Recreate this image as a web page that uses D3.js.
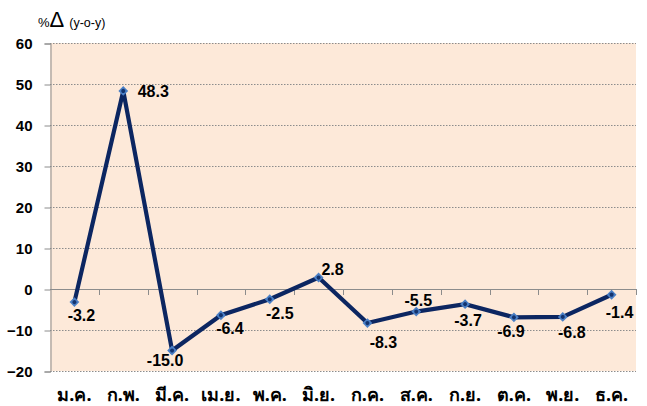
<!DOCTYPE html>
<html>
<head>
<meta charset="utf-8">
<script src="https://cdn.jsdelivr.net/npm/d3@7"></script>
<style>
  body { margin: 0; background: #fff; }
  svg { display: block; }
</style>
</head>
<body>
<svg id="chart" width="647" height="406"></svg>
<script>
// ===== data =====
var months = ["ม.ค.", "ก.พ.", "มี.ค.", "เม.ย.", "พ.ค.", "มิ.ย.", "ก.ค.", "ส.ค.", "ก.ย.", "ต.ค.", "พ.ย.", "ธ.ค."];
var growth = [-3.2, 48.3, -15.0, -6.4, -2.5, 2.8, -8.3, -5.5, -3.7, -6.9, -6.8, -1.4];
var yTicks = [60, 50, 40, 30, 20, 10, 0, -10, -20];
// label nudges (px) from each point
var labelDx = [7, 30, -7, 9, 10, 14, 16, 2, 3, -3, 9, 8];
var labelDy = [19, 6, 15, 19, 20, -3, 25, -6, 22, 20, 21, 23];

// ===== layout =====
var plotL = 50, plotR = 636, plotT = 43, plotB = 371;
var svg = d3.select("#chart");

var x = d3.scaleBand().domain(months).range([plotL, plotR]);
var y = d3.scaleLinear().domain([-20, 60]).range([plotB, plotT]);

svg.append("rect")
    .attr("x", plotL).attr("y", plotT)
    .attr("width", plotR - plotL).attr("height", plotB - plotT)
    .attr("fill", "#fde9d9");

// gridlines
svg.append("g").selectAll("line")
    .data(yTicks.filter(function (d) { return d !== 0; }))
    .enter().append("line")
    .attr("x1", plotL).attr("x2", plotR)
    .attr("y1", function (d) { return Math.round(y(d)) + 0.5; })
    .attr("y2", function (d) { return Math.round(y(d)) + 0.5; })
    .attr("stroke", "#8c8c8c")
    .attr("stroke-width", 1)
    .attr("stroke-dasharray", "1.5,1.5");

// y axis
var yAxis = d3.axisLeft(y).tickValues(yTicks).tickSize(6).tickPadding(12);
var gy = svg.append("g").attr("transform", "translate(" + (plotL + 0.5) + ",0.5)").call(yAxis);
gy.select(".domain").attr("stroke", "#8c8c8c");
gy.selectAll(".tick line").attr("stroke", "#8c8c8c");
gy.selectAll(".tick text")
    .attr("fill", "#000")
    .attr("font-family", "'Liberation Sans', Arial, sans-serif")
    .attr("font-weight", "bold")
    .attr("font-size", "15px");

// zero line with category ticks
svg.append("line")
    .attr("x1", plotL).attr("x2", plotR)
    .attr("y1", Math.round(y(0)) + 0.5).attr("y2", Math.round(y(0)) + 0.5)
    .attr("stroke", "#8c8c8c");
var bounds = months.map(function (m) { return x(m) + x.bandwidth(); });
svg.append("g").selectAll("line")
    .data(bounds)
    .enter().append("line")
    .attr("x1", function (d) { return Math.round(d) + 0.5; })
    .attr("x2", function (d) { return Math.round(d) + 0.5; })
    .attr("y1", Math.round(y(0))).attr("y2", Math.round(y(0)) + 6)
    .attr("stroke", "#8c8c8c");

// x labels
svg.append("g").selectAll("text")
    .data(months)
    .enter().append("text")
    .attr("x", function (d) { return x(d) + x.bandwidth() / 2; })
    .attr("y", 401)
    .attr("text-anchor", "middle")
    .attr("font-family", "Tahoma, 'Noto Sans', 'DejaVu Sans', sans-serif")
    .attr("font-weight", "bold")
    .attr("font-size", "18px")
    .attr("fill", "#000")
    .text(function (d) { return d; });

// line
var pts = months.map(function (m, i) { return { m: m, v: growth[i], i: i }; });
var line = d3.line()
    .x(function (d) { return x(d.m) + x.bandwidth() / 2; })
    .y(function (d) { return y(d.v); });

svg.append("path")
    .datum(pts)
    .attr("d", line)
    .attr("fill", "none")
    .attr("stroke", "#0c2661")
    .attr("stroke-width", 4.2)
    .attr("stroke-linejoin", "miter");

// markers (square turned 45deg)
var sym = d3.symbol().type(d3.symbolSquare).size(48);
var mk = svg.append("g").selectAll("g")
    .data(pts)
    .enter().append("g")
    .attr("transform", function (d) { return "translate(" + (x(d.m) + x.bandwidth() / 2) + "," + y(d.v) + ") rotate(45)"; });
mk.append("path").attr("d", sym).attr("fill", "#4a7fc6");
mk.append("circle").attr("r", 2).attr("fill", "#13336e");

// value labels
svg.append("g").selectAll("text")
    .data(pts)
    .enter().append("text")
    .attr("x", function (d) { return x(d.m) + x.bandwidth() / 2 + labelDx[d.i]; })
    .attr("y", function (d) { return y(d.v) + labelDy[d.i]; })
    .attr("text-anchor", "middle")
    .attr("font-family", "'Liberation Sans', Arial, sans-serif")
    .attr("font-weight", "bold")
    .attr("font-size", "16px")
    .attr("fill", "#000")
    .text(function (d) { return d.v.toFixed(1); });

// title
var t = svg.append("text").attr("x", 38).attr("y", 27)
    .attr("font-family", "'Liberation Sans', Arial, sans-serif").attr("fill", "#000");
t.append("tspan").attr("font-size", "13px").text("%");
t.append("tspan").attr("font-size", "22px").text("Δ");
t.append("tspan").attr("font-size", "12.5px").attr("dx", 5).text("(y-o-y)");
</script>
</body>
</html>
